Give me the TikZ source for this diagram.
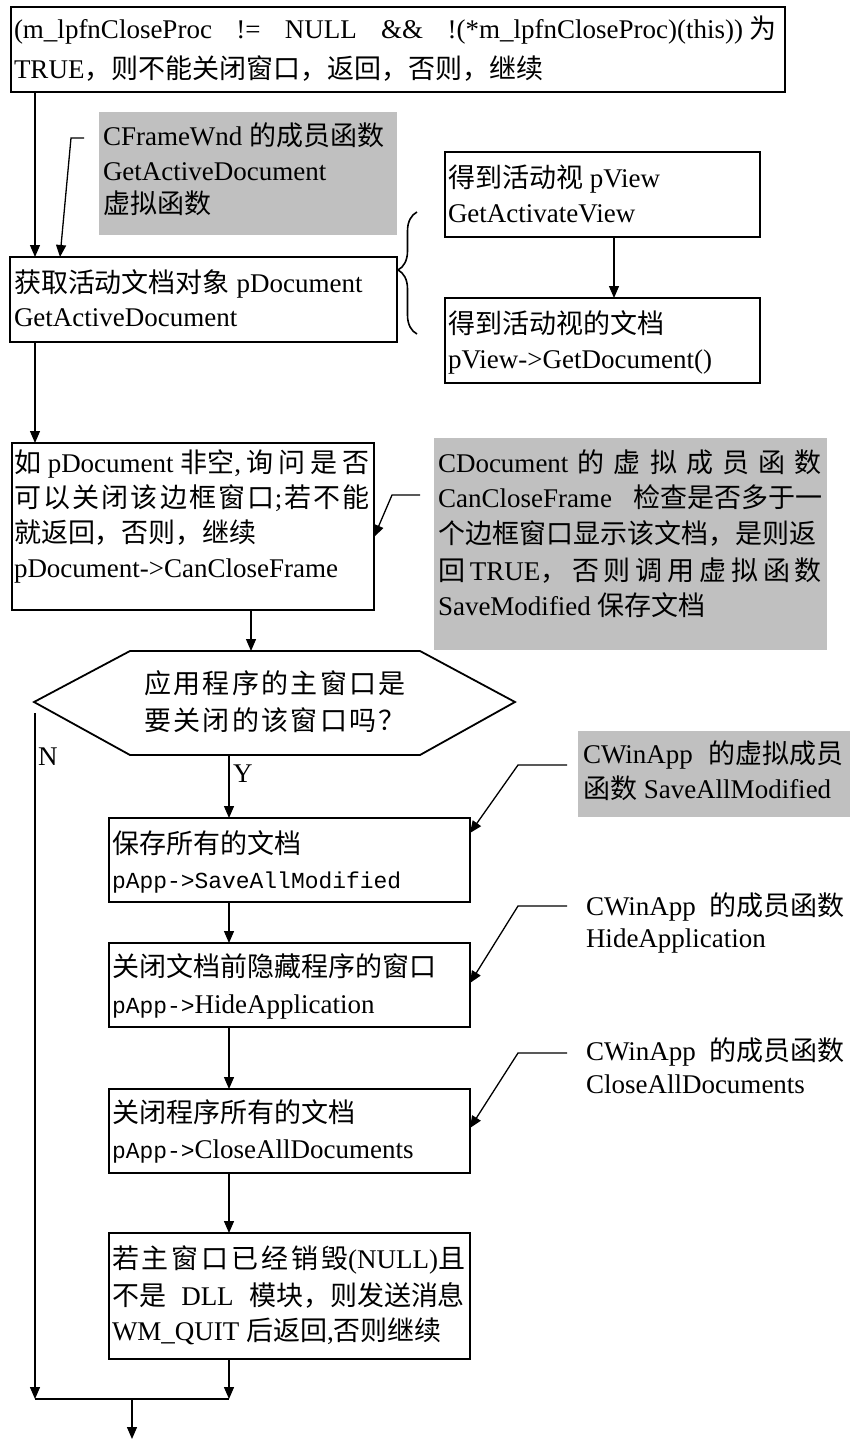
\documentclass[tikz,border=0pt]{standalone}
\usepackage{fontspec}
\setmainfont{Liberation Serif}
\setmonofont{Liberation Mono}[Scale=0.85]
\newfontfamily\cjk{Noto Sans CJK SC}
\usetikzlibrary{arrows.meta,decorations.pathreplacing}
\definecolor{silverbg}{RGB}{192,192,192}
\newcommand\zh[1]{{\cjk #1}}
\newcommand\fillgap{\hspace{0pt plus 1fill}}
\def\spr#1{\sprfirst#1\relax}
\def\sprfirst#1{{\cjk #1}\sprrest}
\def\sprrest#1{\ifx#1\relax\else\fillgap{\cjk #1}\expandafter\sprrest\fi}
\newcommand\jus[2]{\makebox[#1pt][s]{#2}}
\newcommand\tline[4]{\node[txt] (#1) at (#2,#3) {#4};}
\begin{document}
\begin{tikzpicture}[x=1pt,y=-1pt,
  box/.style={draw, line width=1.8pt, inner sep=0pt, outer sep=0pt, anchor=north west},
  gbox/.style={fill=silverbg, inner sep=0pt, outer sep=0pt, anchor=north west},
  txt/.style={anchor=base west, inner sep=0pt, outer sep=0pt, font=\fontsize{27}{35}\selectfont},
  arr/.style={line width=1.3pt, -{Triangle[length=12pt,width=10pt]}},
  ln/.style={line width=1.3pt}]
\useasboundingbox (0,0) rectangle (850,1441);
% grey note boxes
\node[gbox, minimum width=298, minimum height=123] (g1) at (99,112) {};
\node[gbox, minimum width=393, minimum height=212] (g2) at (434,438) {};
\node[gbox, minimum width=272, minimum height=86] (g3) at (578,731) {};
% process boxes
\node[box, minimum width=774, minimum height=85] (top) at (11,7) {};
\node[box, minimum width=387, minimum height=85] (b2) at (10,257) {};
\node[box, minimum width=315, minimum height=85] (r1) at (445,152) {};
\node[box, minimum width=315, minimum height=85] (r2) at (445,298) {};
\node[box, minimum width=362, minimum height=167] (b3) at (12,443) {};
\node[box, minimum width=361, minimum height=84] (b4) at (109,818) {};
\node[box, minimum width=361, minimum height=84] (b5) at (109,943) {};
\node[box, minimum width=361, minimum height=84] (b6) at (109,1089) {};
\node[box, minimum width=361, minimum height=126] (b7) at (109,1233) {};
% decision hexagon
\draw[line width=1.8pt] (34,702) -- (130,651) -- (420,651) -- (515,702) -- (420,755) -- (130,755) -- cycle;
\coordinate (hexT) at (251,651);
\coordinate (hexB) at (229,755);
\coordinate (hexL) at (35,713);
% texts
\tline{t1}{14}{38}{\jus{763}{(m\_lpfnCloseProc\fillgap !=\fillgap NULL\fillgap \&\&\fillgap !(*m\_lpfnCloseProc)(this))\hspace{7pt}\zh{为}}}
\tline{t2}{14}{78}{TRUE\zh{，则不能关闭窗口，返回，否则，继续}}
\tline{g1a}{103}{145}{CFrameWnd \zh{的成员函数}}
\tline{g1b}{103}{180}{GetActiveDocument}
\tline{g1c}{103}{213}{\zh{虚拟函数}}
\tline{r1a}{448}{187}{\zh{得到活动视} pView}
\tline{r1b}{448}{222}{GetActivateView}
\tline{r2a}{448}{333}{\zh{得到活动视的文档}}
\tline{r2b}{448}{368}{pView->GetDocument()}
\tline{b2a}{14}{292}{\zh{获取活动文档对象} pDocument}
\tline{b2b}{14}{326}{GetActiveDocument}
\tline{b3a}{14}{472}{\jus{356}{\zh{如} pDocument \zh{非空},\fillgap\spr{询问是否}}}
\tline{b3b}{14}{507}{\jus{356}{\spr{可以关闭该边框窗口};\fillgap\spr{若不能}}}
\tline{b3c}{14}{542}{\zh{就返回，否则，继续}}
\tline{b3d}{14}{577}{pDocument->CanCloseFrame}
\tline{g2a}{438}{472}{\jus{384}{CDocument\fillgap\spr{的虚拟成员函数}}}
\tline{g2b}{438}{507}{\jus{384}{CanCloseFrame\fillgap\zh{检查是否多于一}}}
\tline{g2c}{438}{543}{\zh{个边框窗口显示该文档，是则返}}
\tline{g2d}{438}{580}{\jus{384}{\zh{回}\fillgap TRUE\zh{，}\fillgap\spr{否则调用虚拟函数}}}
\tline{g2e}{438}{615}{SaveModified \zh{保存文档}}
\tline{h1}{144}{693}{\jus{262}{\spr{应用程序的主窗口是}}}
\tline{h2}{144}{730}{\jus{262}{\spr{要关闭的该窗口吗？}}}
\tline{lN}{38}{765}{N}
\tline{lY}{233}{782}{Y}
\tline{b4a}{112}{853}{\zh{保存所有的文档}}
\tline{b4b}{112}{888}{\ttfamily pApp->SaveAllModified}
\tline{g3a}{583}{763}{\jus{260}{CWinApp\fillgap\zh{的虚拟成员}}}
\tline{g3b}{583}{798}{\zh{函数} SaveAllModified}
\tline{b5a}{112}{976}{\zh{关闭文档前隐藏程序的窗口}}
\tline{b5b}{112}{1013}{{\ttfamily pApp->}HideApplication}
\tline{n4a}{586}{915}{\jus{258}{CWinApp\fillgap\zh{的成员函数}}}
\tline{n4b}{586}{947}{HideApplication}
\tline{b6a}{112}{1122}{\zh{关闭程序所有的文档}}
\tline{b6b}{112}{1158}{{\ttfamily pApp->}CloseAllDocuments}
\tline{n5a}{586}{1060}{\jus{258}{CWinApp\fillgap\zh{的成员函数}}}
\tline{n5b}{586}{1093}{CloseAllDocuments}
\tline{b7a}{112}{1268}{\jus{353}{\spr{若主窗口已经销毁}(NULL)\zh{且}}}
\tline{b7b}{112}{1305}{\jus{353}{\zh{不是}\fillgap DLL\fillgap\zh{模块，则发送消息}}}
\tline{b7c}{112}{1340}{WM\_QUIT \zh{后返回},\zh{否则继续}}
% helper coordinates
\coordinate (cL) at (35,0);
\coordinate (cM) at (229,0);
\coordinate (cR) at (614,0);
\coordinate (cH) at (251,0);
\coordinate (l1a) at (84,138);
\coordinate (l1b) at (71,138);
\coordinate (l1t) at (60,0);
\coordinate (l2a) at (420,495);
\coordinate (l2b) at (392,495);
\coordinate (l2t) at (0,537);
\coordinate (l3a) at (567,765);
\coordinate (l3b) at (518,765);
\coordinate (l3t) at (0,833);
\coordinate (l4a) at (567,906);
\coordinate (l4b) at (518,906);
\coordinate (l4t) at (0,983);
\coordinate (l5a) at (567,1053);
\coordinate (l5b) at (518,1053);
\coordinate (l5t) at (0,1128);
\coordinate (brB) at (417,334);
\coordinate (brT) at (417,212);
\coordinate (jL) at (35,1399);
\coordinate (jR) at (229,1399);
\coordinate (jM) at (132,1399);
\coordinate (exit) at (132,1439);
% connectors
\draw[arr] (cL |- top.south) -- (cL |- b2.north);
\draw[arr] (l1a) -- (l1b) -- (l1t |- b2.north);
\draw[line width=1.6pt, decorate, decoration={brace, amplitude=19pt, aspect=0.525}] (brB) -- (brT);
\draw[arr] (cR |- r1.south) -- (cR |- r2.north);
\draw[arr] (cL |- b2.south) -- (cL |- b3.north);
\draw[arr] (l2a) -- (l2b) -- (b3.east |- l2t);
\draw[arr] (cH |- b3.south) -- (hexT);
\draw[arr] (hexB) -- (cM |- b4.north);
\draw[arr] (l3a) -- (l3b) -- (b4.east |- l3t);
\draw[arr] (cM |- b4.south) -- (cM |- b5.north);
\draw[arr] (l4a) -- (l4b) -- (b5.east |- l4t);
\draw[arr] (cM |- b5.south) -- (cM |- b6.north);
\draw[arr] (l5a) -- (l5b) -- (b6.east |- l5t);
\draw[arr] (cM |- b6.south) -- (cM |- b7.north);
\draw[arr] (hexL) -- (jL);
\draw[arr] (cM |- b7.south) -- (jR);
\draw[ln] (jL) -- (jR);
\draw[arr] (jM) -- (exit);
\end{tikzpicture}
\end{document}
